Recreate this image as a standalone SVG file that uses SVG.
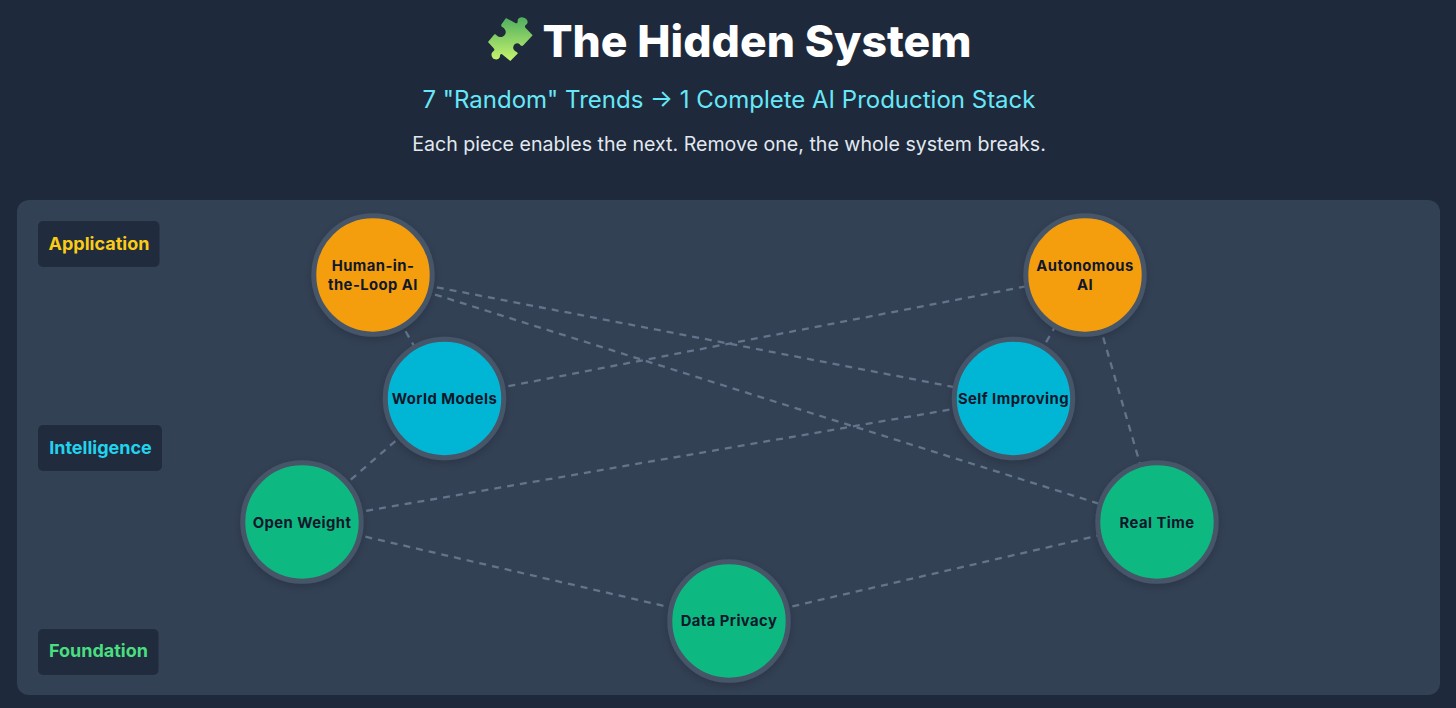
<svg xmlns="http://www.w3.org/2000/svg" width="1456" height="708" viewBox="0 0 1456 708">
<style>
text{font-family:Inter,"Liberation Sans",sans-serif;text-anchor:middle}
.l{fill:none;stroke:#64748b;stroke-width:2.300;stroke-dasharray:7 6}
.n{stroke:#475569;stroke-width:5;filter:url(#s)}
.o{fill:#f59e0b}.c{fill:#06b6d4}.g{fill:#10b981}
.t{font-size:14.800px;font-weight:700;fill:#0f172a;letter-spacing:.45px}
.b{fill:#1e293b;opacity:.9}
.k{font-size:18px;font-weight:700}
</style>
<defs>
<linearGradient id="p" x1="0" y1="0" x2="0" y2="1"><stop offset="0" stop-color="#4fae5f"/><stop offset="1" stop-color="#c8f56e"/></linearGradient>
<filter id="s" x="-20%" y="-20%" width="140%" height="140%"><feDropShadow dx="0" dy="3" stdDeviation="4" flood-color="#000" flood-opacity=".18"/></filter>
</defs>
<rect width="1456" height="708" fill="#1e293b"/>
<rect x="17" y="200" width="1423" height="495" rx="12" fill="#334155"/>
<g id="title">
<path fill="url(#p)" transform="translate(482 12) scale(.3333)" d="M72 18 L100 33 C104 36 108 32 107 27 C106 18 118 13 128 18 C138 23 140 33 132 38 C128 41 128 45 131 48 L152 70 L124 100 C120 104 116 101 113 97 C108 91 96 94 94 104 C92 112 98 117 104 120 L108 124 L85 147 L62 128 C58 124 54 128 54 132 C54 142 40 146 32 138 C26 130 28 122 34 118 C38 116 38 112 35 109 L18 90 L36 68 C40 64 44 69 46 72 C52 78 66 76 70 66 C74 56 68 50 62 46 C58 44 56 40 59 36 Z"/>
<text x="757" y="57" font-size="44.500" font-weight="800" fill="#fff">The Hidden System</text>
<text x="729" y="108" font-size="24" fill="#67e8f9">7 "Random" Trends → 1 Complete AI Production Stack</text>
<text x="729" y="151" font-size="19.600" fill="#e2e8f0">Each piece enables the next. Remove one, the whole system breaks.</text>
</g>
<g id="connectors">
<line class="l" x1="373" y1="275" x2="444.5" y2="398.5"/>
<line class="l" x1="373" y1="275" x2="1013.5" y2="398.5"/>
<line class="l" x1="373" y1="275" x2="1157" y2="522"/>
<line class="l" x1="444.5" y1="398.5" x2="1085" y2="275"/>
<line class="l" x1="444.5" y1="398.5" x2="302" y2="522"/>
<line class="l" x1="1013.5" y1="398.5" x2="1085" y2="275"/>
<line class="l" x1="1013.5" y1="398.5" x2="302" y2="522"/>
<line class="l" x1="1085" y1="275" x2="1157" y2="522"/>
<line class="l" x1="302" y1="522" x2="729" y2="621"/>
<line class="l" x1="729" y1="621" x2="1157" y2="522"/>
</g>
<g id="layer-application"><rect class="b" x="38" y="221" width="121.500" height="46" rx="5"/><text class="k" x="99" y="250" fill="#facc15">Application</text></g>
<g id="layer-intelligence"><rect class="b" x="38" y="425" width="124" height="46" rx="5"/><text class="k" x="100.500" y="454" fill="#22d3ee">Intelligence</text></g>
<g id="layer-foundation"><rect class="b" x="38" y="629" width="120.500" height="46" rx="5"/><text class="k" x="98.500" y="657" fill="#4ade80">Foundation</text></g>
<g id="node-human"><circle class="n o" cx="373" cy="275" r="59.200"/><text class="t" x="373" y="271">Human-in-</text><text class="t" x="373" y="290">the-Loop AI</text></g>
<g id="node-autonomous"><circle class="n o" cx="1085" cy="275" r="59.200"/><text class="t" x="1085" y="271">Autonomous</text><text class="t" x="1085" y="290">AI</text></g>
<g id="node-world"><circle class="n c" cx="444.500" cy="398.500" r="59.200"/><text class="t" x="444.500" y="404">World Models</text></g>
<g id="node-self"><circle class="n c" cx="1013.500" cy="398.500" r="59.200"/><text class="t" x="1013.500" y="404">Self Improving</text></g>
<g id="node-open"><circle class="n g" cx="302" cy="522" r="59.200"/><text class="t" x="302" y="528">Open Weight</text></g>
<g id="node-real"><circle class="n g" cx="1157" cy="522" r="59.200"/><text class="t" x="1157" y="528">Real Time</text></g>
<g id="node-data"><circle class="n g" cx="729" cy="621" r="59.200"/><text class="t" x="729" y="626">Data Privacy</text></g>
</svg>
